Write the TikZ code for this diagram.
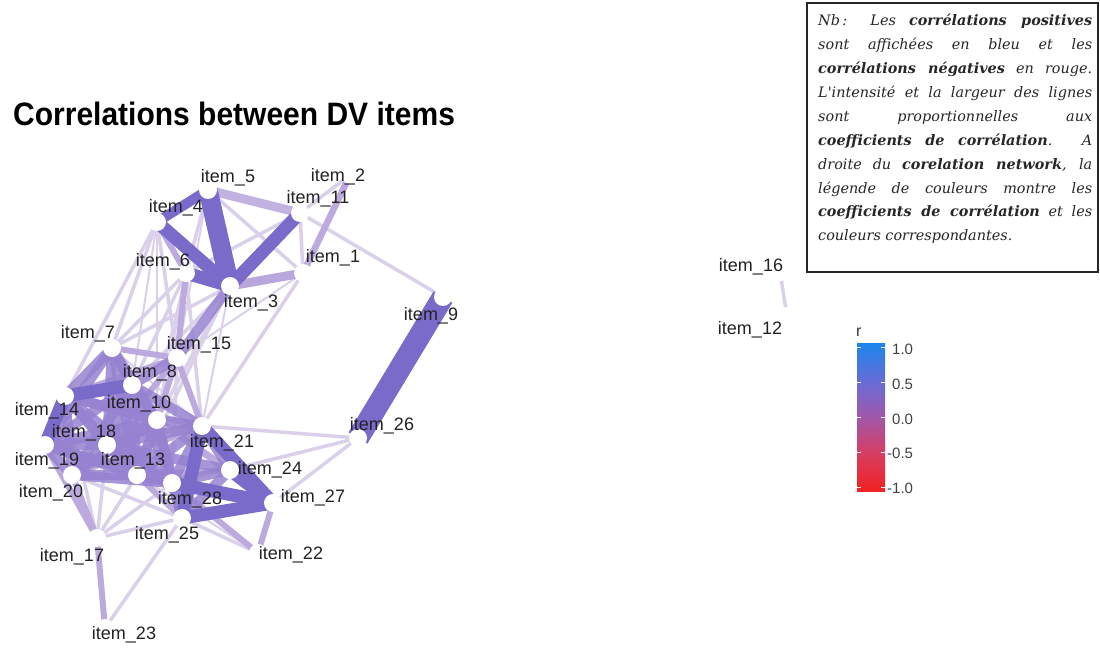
\documentclass[tikz,border=0pt]{standalone}
\usepackage{fontspec}
\setmainfont{Liberation Sans}
\newfontfamily\notefont{DejaVu Serif}
\pgfdeclarelayer{edges}
\pgfsetlayers{edges,main}
\definecolor{pS}{RGB}{122,106,202}
\definecolor{pM}{RGB}{150,130,208}
\definecolor{pL}{RGB}{188,170,222}
\definecolor{pF}{RGB}{218,208,234}
\definecolor{labtxt}{RGB}{34,34,34}
\definecolor{cA}{RGB}{28,132,236}
\definecolor{cB}{RGB}{106,108,214}
\definecolor{cC}{RGB}{160,88,170}
\definecolor{cD}{RGB}{214,62,100}
\definecolor{cE}{RGB}{242,34,34}
\tikzset{
  vtx/.style={circle,fill=white,minimum size=18pt,inner sep=0pt},
  lab/.style={font=\fontsize{18}{20}\selectfont,text=labtxt,inner sep=0pt},
  eA/.style={draw=pS,line width=20pt},
  eB/.style={draw=pS,line width=13pt},
  eC/.style={draw=pM,line width=10pt,draw opacity=0.85},
  eD/.style={draw=pL,line width=6pt},
  eE/.style={draw=pF,line width=3.5pt},
  eF/.style={draw=pF,line width=2pt},
  ticklab/.style={font=\fontsize{15}{16}\selectfont,text=black!75,anchor=west,inner sep=0pt},
}
\begin{document}
\begin{tikzpicture}[x=1pt,y=-1pt]
\useasboundingbox (0,0) rectangle (1100,650);
% title
\node[font=\bfseries\fontsize{30}{34}\selectfont,anchor=west,inner sep=0pt,yscale=1.08,transform shape] (title) at (13,114) {Correlations between DV items};
% vertices
\node[vtx] (n1) at (303,273) {};
\node[vtx] (n2) at (350,175) {};
\node[vtx] (n3) at (230,286) {};
\node[vtx] (n4) at (157,222) {};
\node[vtx] (n5) at (208,190) {};
\node[vtx] (n6) at (186,273) {};
\node[vtx] (n7) at (112,348) {};
\node[vtx] (n8) at (132,385) {};
\node[vtx] (n9) at (443,297) {};
\node[vtx] (n10) at (157,420) {};
\node[vtx] (n11) at (300,213) {};
\node[vtx] (n12) at (787,316) {};
\node[vtx] (n13) at (137,475) {};
\node[vtx] (n14) at (65,396) {};
\node[vtx] (n15) at (177,358) {};
\node[vtx] (n16) at (780,272) {};
\node[vtx] (n17) at (97,538) {};
\node[vtx] (n18) at (107,445) {};
\node[vtx] (n19) at (45,445) {};
\node[vtx] (n20) at (72,475) {};
\node[vtx] (n21) at (202,426) {};
\node[vtx] (n22) at (258,553) {};
\node[vtx] (n23) at (105,628) {};
\node[vtx] (n24) at (230,470) {};
\node[vtx] (n25) at (182,518) {};
\node[vtx] (n26) at (358,438) {};
\node[vtx] (n27) at (273,503) {};
\node[vtx] (n28) at (172,483) {};
% edges
\begin{pgfonlayer}{edges}
\foreach \a/\b in {4/8,3/21,26/28,13/22,4/10,7/21,1/15,6/13,5/15,4/3}
  \draw[eF] (n\a.center) -- (n\b.center);
\foreach \a/\b in {11/2,11/1,11/9,1/21,4/7,4/14,4/15,5/6,6/7,6/8,6/10,3/7,3/8,3/10,15/13,15/28,14/17,13/17,28/17,25/17,18/17,25/23,25/22,26/21,26/24,26/27,16/12,20/25,20/28,6/11,5/4,5/1,3/13,6/21}
  \draw[eE] (n\a.center) -- (n\b.center);
\draw[eD,line width=6.5pt] (n2.center) -- (n1.center);
\draw[eD,line width=9pt,draw=pL!90!pM] (n3.center) -- (n1.center);
\draw[eD,line width=9pt,draw=pL!80!pF] (n5.center) -- (n11.center);
\foreach \a/\b in {4/6,6/15,7/15,15/10,15/21,20/17,19/17,17/23,27/22,28/22,10/24,13/24,13/25,15/14,15/18,10/27,20/21,19/21,14/21}
  \draw[eD] (n\a.center) -- (n\b.center);
\foreach \a/\b in {3/15,7/8,7/14,7/10,15/8,8/10,8/18,8/19,8/13,8/21,14/18,14/10,14/20,14/13,18/19,18/13,18/10,18/20,18/28,19/20,19/13,19/28,10/13,10/21,10/28,13/28,13/21,13/20,21/24,21/28,24/28,28/25,7/18,7/19,7/13,8/20,8/28,10/19,10/20,10/25,14/28,18/21,20/28,13/27,24/25,18/24,10/14}
  \draw[eC] (n\a.center) -- (n\b.center);
\draw[eC,draw=pS,draw opacity=1,line width=10pt] (n4.center) -- (n5.center);
\foreach \a/\b in {3/4,3/11,3/6,8/14,14/19,21/27,24/27,28/27,25/27,21/25}
  \draw[eB] (n\a.center) -- (n\b.center);
\draw[eA,line width=19pt] (n3.center) -- (n5.center);
\draw[eA,line width=22pt] (n9.center) -- (n26.center);
\end{pgfonlayer}
% labels
\node[lab] (l1) at (333,258) {item\_1};
\node[lab] (l2) at (338,177) {item\_2};
\node[lab] (l3) at (251,303) {item\_3};
\node[lab] (l4) at (176,208) {item\_4};
\node[lab] (l5) at (228,178) {item\_5};
\node[lab] (l6) at (163,262) {item\_6};
\node[lab] (l7) at (88,334) {item\_7};
\node[lab] (l8) at (150,373) {item\_8};
\node[lab] (l9) at (431,316) {item\_9};
\node[lab] (l10) at (139,404) {item\_10};
\node[lab] (l11) at (318,199) {item\_11};
\node[lab] (l12) at (750,330) {item\_12};
\node[lab] (l13) at (133,461) {item\_13};
\node[lab] (l14) at (47,411) {item\_14};
\node[lab] (l15) at (199,345) {item\_15};
\node[lab] (l16) at (751,267) {item\_16};
\node[lab] (l17) at (72,557) {item\_17};
\node[lab] (l18) at (84,433) {item\_18};
\node[lab] (l19) at (47,461) {item\_19};
\node[lab] (l20) at (51,493) {item\_20};
\node[lab] (l21) at (222,443) {item\_21};
\node[lab] (l22) at (291,555) {item\_22};
\node[lab] (l23) at (124,635) {item\_23};
\node[lab] (l24) at (270,470) {item\_24};
\node[lab] (l25) at (167,535) {item\_25};
\node[lab] (l26) at (382,426) {item\_26};
\node[lab] (l27) at (313,498) {item\_27};
\node[lab] (l28) at (190,500) {item\_28};
% colour legend
\node[font=\fontsize{16}{16}\selectfont,text=black!80,anchor=west,inner sep=0pt] (rlab) at (856,332) {r};
\shade[top color=cA,bottom color=cB] (857,343) rectangle (885,382);
\shade[top color=cB,bottom color=cC] (857,382) rectangle (885,417);
\shade[top color=cC,bottom color=cD] (857,417) rectangle (885,452);
\shade[top color=cD,bottom color=cE] (857,452) rectangle (885,491);
\foreach \yy in {347,382,417,452,487} {
  \draw[white,line width=1pt] (857,\yy) -- (861,\yy);
  \draw[white,line width=1pt] (881,\yy) -- (885,\yy);
}
\node[ticklab] (t1) at (892,349) {1.0};
\node[ticklab] (t2) at (892,384) {0.5};
\node[ticklab] (t3) at (892,419) {0.0};
\node[ticklab] (t4) at (887,453) {-0.5};
\node[ticklab] (t5) at (887,488) {-1.0};
% note box
\draw[black!85,line width=1.3pt] (807,3) rectangle (1098,272);
\node[anchor=north west,inner sep=0pt,text width=274pt,align=justify,
      font=\notefont\itshape\fontsize{14.4}{23.9}\selectfont,text=black!85] (note) at (818,14)
{Nb\,: Les \textbf{corrélations positives}\linebreak
sont affichées en bleu et les\linebreak
\textbf{corrélations négatives} en rouge.\linebreak
L'intensité et la largeur des lignes\linebreak
sont proportionnelles aux\linebreak
\textbf{coefficients de corrélation}. A\linebreak
droite du \textbf{corelation network}, la\linebreak
légende de couleurs montre les\linebreak
\textbf{coefficients de corrélation} et les\linebreak
couleurs correspondantes.};
\end{tikzpicture}
\end{document}
